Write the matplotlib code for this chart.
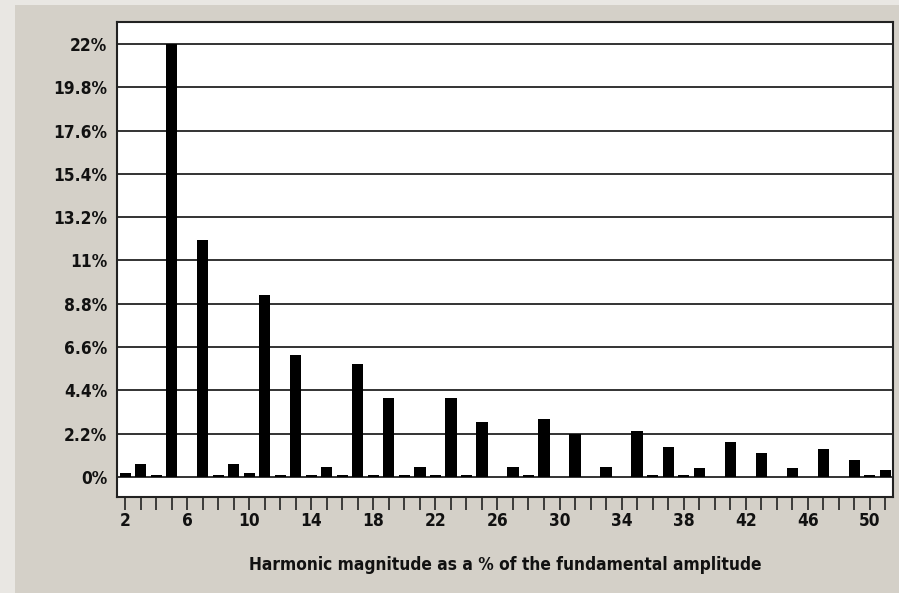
import matplotlib
matplotlib.use("Agg")
import matplotlib.pyplot as plt
from matplotlib.patches import Rectangle

harmonics = list(range(2, 52))
magnitudes = [
    0.2, 0.65, 0.1, 22.0, 0.0, 12.05, 0.1, 0.65, 0.2, 9.25,   # 2-11
    0.1, 6.2, 0.1, 0.52, 0.1, 5.75, 0.1, 4.03, 0.1, 0.52,     # 12-21
    0.1, 4.03, 0.1, 2.8, 0.0, 0.52, 0.1, 2.95, 0.0, 2.2,      # 22-31
    0.0, 0.52, 0.0, 2.32, 0.1, 1.5, 0.1, 0.43, 0.0, 1.75,     # 32-41
    0.0, 1.2, 0.0, 0.43, 0.0, 1.43, 0.0, 0.86, 0.1, 0.37,     # 42-51
]
y_ticks = [0, 2.2, 4.4, 6.6, 8.8, 11, 13.2, 15.4, 17.6, 19.8, 22]
y_tick_labels = ["0%", "2.2%", "4.4%", "6.6%", "8.8%", "11%", "13.2%",
                 "15.4%", "17.6%", "19.8%", "22%"]
x_label_ticks = list(range(2, 51, 4))
x_label = "Harmonic magnitude as a % of the fundamental amplitude"

W, H = 899, 593
fig = plt.figure(figsize=(W / 100, H / 100), dpi=100)
fig.patch.set_facecolor("#e9e7e3")
fig.patches.append(Rectangle((15 / W, 0), 1 - 15 / W, 1 - 5 / H,
                             transform=fig.transFigure, facecolor="#d4d0c8",
                             edgecolor="none", zorder=-5))

left, right, top, bottom = 117, 893, 22, 497
ax = fig.add_axes([left / W, 1 - bottom / H, (right - left) / W, (bottom - top) / H])
ax.set_zorder(2)
ax.set_facecolor("white")

ax.bar(harmonics, magnitudes, width=0.72, color="black", zorder=3)

ax.set_xlim(1.47, 51.5)
ax.set_ylim(-1.02, 23.12)

for yv in y_ticks:
    ax.axhline(yv, color="#333333", linewidth=1.4, zorder=2)

font = dict(family="DejaVu Sans", fontsize=12.4, fontweight="bold", stretch="condensed")

ax.set_yticks(y_ticks)
ax.set_yticklabels(y_tick_labels, **font)
ax.tick_params(axis="y", length=0, pad=7, colors="#111111")

ax.set_xticks(harmonics, minor=True)
ax.set_xticks(x_label_ticks)
ax.set_xticklabels([str(v) for v in x_label_ticks], **font)
ax.tick_params(axis="x", which="both", direction="out", length=9, width=1.2,
               color="#222222", pad=2)
ax.tick_params(axis="x", which="major", labelcolor="#111111")
ax.tick_params(axis="x", which="minor", labelbottom=False)

for s in ax.spines.values():
    s.set_color("#222222")
    s.set_linewidth(1.5)

fig.text(505 / W, 1 - 565 / H, x_label,
         ha="center", va="center", color="#111111", **font)

fig.savefig("out.png", dpi=100)
